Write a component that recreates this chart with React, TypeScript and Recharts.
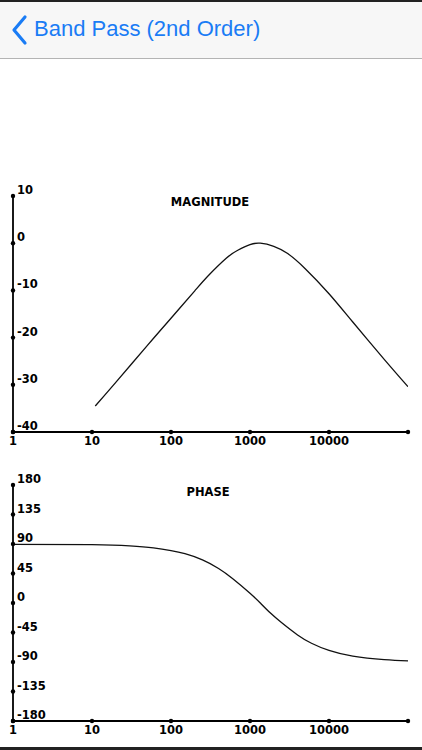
import React from "react";
import { LineChart, Line, XAxis, YAxis } from "recharts";

// ---- data ----
const freqTicks = [1, 10, 100, 1000, 10000, 100000];
const freqTickLabels = ["1", "10", "100", "1000", "10000", ""];

const magTicks = [-40, -30, -20, -10, 0, 10];
const magFreq = [11, 20, 50, 100, 200, 300, 500, 700, 1000, 1350, 2000, 3000, 5000, 10000, 20000, 50000, 100000];
const magDb = [-34.5, -29.5, -21.7, -15.9, -10.1, -6.8, -3.2, -1.5, -0.3, 0, -0.65, -2.2, -5.4, -10.7, -16.7, -24.6, -30.4];

const phaseTicks = [-180, -135, -90, -45, 0, 45, 90, 135, 180];
const phaseFreq = [1, 10, 30, 60, 100, 150, 250, 400, 600, 1000, 1350, 1800, 2500, 4000, 6000, 10000, 20000, 50000, 100000];
const phaseDeg = [89.5, 89, 87, 84, 80, 75.2, 65.8, 52.7, 37.5, 15, 0, -15, -29.8, -48.7, -61.4, -72.4, -81.1, -86.4, -88.3];

const magData = magFreq.map((f, i) => ({ f, v: magDb[i] }));
const phaseData = phaseFreq.map((f, i) => ({ f, v: phaseDeg[i] }));

const TICK_FONT = "'DejaVu Sans', Arial, sans-serif";

const YTick = (props: any) => {
  const { x, y, payload } = props;
  return (
    <g>
      <circle cx={x} cy={y} r={2.2} fill="#000" />
      <text x={x + 4} y={y - 2} fontFamily={TICK_FONT} fontWeight="bold" fontSize={11.5} fill="#000" textAnchor="start">
        {String(payload.value)}
      </text>
    </g>
  );
};

const XTick = (props: any) => {
  const { x, y, payload } = props;
  const idx = freqTicks.indexOf(payload.value);
  const label = idx >= 0 ? freqTickLabels[idx] : "";
  return (
    <g>
      <circle cx={x} cy={y} r={2.2} fill="#000" />
      <text x={x} y={y + 13} fontFamily={TICK_FONT} fontWeight="bold" fontSize={11.5} fill="#000" textAnchor="middle">
        {label}
      </text>
    </g>
  );
};

type PlotProps = {
  data: { f: number; v: number }[];
  yTicks: number[];
  yDomain: [number, number];
};

const Plot = ({ data, yTicks, yDomain }: PlotProps) => (
  <LineChart width={422} height={285} data={data} margin={{ top: 21, right: 14, bottom: 8, left: 12 }}>
    <XAxis
      dataKey="f"
      type="number"
      scale="log"
      domain={[1, 100000]}
      ticks={freqTicks}
      interval={0}
      height={20}
      tickSize={0}
      tickMargin={0}
      tickLine={false}
      axisLine={{ stroke: "#000", strokeWidth: 1.8 }}
      tick={<XTick />}
      allowDataOverflow
    />
    <YAxis
      type="number"
      domain={yDomain}
      ticks={yTicks}
      interval={0}
      width={1}
      tickSize={0}
      tickMargin={0}
      tickLine={false}
      axisLine={{ stroke: "#000", strokeWidth: 1.8 }}
      tick={<YTick />}
      allowDataOverflow
    />
    <Line dataKey="v" type="natural" stroke="#111" strokeWidth={1.3} dot={false} isAnimationActive={false} />
  </LineChart>
);

const titleStyle: React.CSSProperties = {
  position: "absolute",
  width: 200,
  textAlign: "center",
  fontFamily: TICK_FONT,
  fontWeight: "bold",
  fontSize: 11.5,
  color: "#000",
  lineHeight: "14px",
};

export default function App() {
  return (
    <div style={{ position: "absolute", left: 0, top: 0, width: 422, height: 750, background: "#fff", overflow: "hidden" }}>
      <div style={{ position: "absolute", left: 0, top: 0, width: 422, height: 2, background: "#222" }} />
      <div
        style={{
          position: "absolute",
          left: 0,
          top: 2,
          width: 422,
          height: 56,
          background: "#f7f7f7",
          borderBottom: "1px solid #b4b4b4",
        }}
      >
        <svg width={30} height={56} style={{ position: "absolute", left: 0, top: 0 }}>
          <polyline points="25,15 14,28 25,41" fill="none" stroke="#1a7cf5" strokeWidth={3.2} strokeLinecap="round" strokeLinejoin="round" />
        </svg>
        <div
          style={{
            position: "absolute",
            left: 34,
            top: 14,
            fontFamily: "Arial, 'Liberation Sans', sans-serif",
            fontSize: 22,
            lineHeight: "26px",
            color: "#1a7cf5",
            whiteSpace: "nowrap",
          }}
        >
          Band Pass (2nd Order)
        </div>
      </div>

      <div style={{ position: "absolute", left: 0, top: 175 }}>
        <Plot data={magData} yTicks={magTicks} yDomain={[-40, 10]} />
      </div>
      <div style={{ ...titleStyle, left: 110, top: 195 }}>MAGNITUDE</div>

      <div style={{ position: "absolute", left: 0, top: 464 }}>
        <Plot data={phaseData} yTicks={phaseTicks} yDomain={[-180, 180]} />
      </div>
      <div style={{ ...titleStyle, left: 108, top: 485 }}>PHASE</div>

      <div style={{ position: "absolute", left: 0, top: 747, width: 422, height: 3, background: "#222" }} />
    </div>
  );
}
